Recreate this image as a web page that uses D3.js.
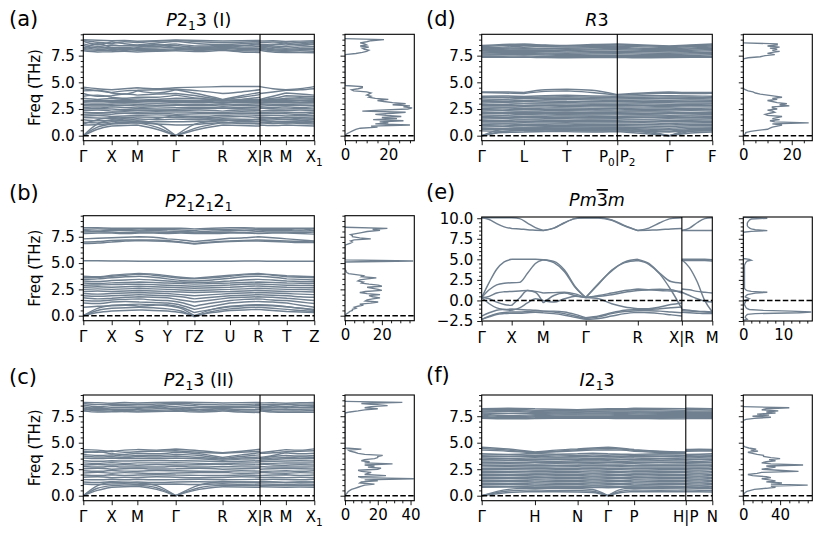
<!DOCTYPE html>
<html>
<head>
<meta charset="utf-8">
<script src="https://cdn.jsdelivr.net/npm/d3@7"></script>
<style>
  body { margin: 0; background: #fff; }
  svg text { font-family: "DejaVu Sans", sans-serif; fill: #000; }
</style>
</head>
<body>
<svg id="fig" width="830" height="545"></svg>
<script>
// ---- k-path ticks (fraction of path length) and labels ----
const kTicksA = [0, 0.123, 0.234, 0.400, 0.603, 0.765, 0.877, 1];
const kTicksB = [0, 0.123, 0.242, 0.364, 0.481, 0.635, 0.758, 0.881, 1];
const kTicksC = [0, 0.123, 0.234, 0.400, 0.603, 0.765, 0.877, 1];
const kTicksD = [0, 0.183, 0.369, 0.588, 0.814, 1];
const kTicksE = [0, 0.130, 0.267, 0.451, 0.677, 0.868, 1];
const kTicksF = [0, 0.231, 0.416, 0.547, 0.661, 0.885, 1];

const kLabelsA = [[['Γ', '']], [['X', '']], [['M', '']], [['Γ', '']], [['R', '']], [['X|R', '']], [['M', '']], [['X', ''], ['1', 's']]];
const kLabelsB = [[['Γ', '']], [['X', '']], [['S', '']], [['Y', '']], [['ΓZ', '']], [['U', '']], [['R', '']], [['T', '']], [['Z', '']]];
const kLabelsC = kLabelsA;
const kLabelsD = [[['Γ', '']], [['L', '']], [['T', '']], [['P', ''], ['0', 's'], ['|P', ''], ['2', 's']], [['Γ', '']], [['F', '']]];
const kLabelsE = [[['Γ', '']], [['X', '']], [['M', '']], [['Γ', '']], [['R', '']], [['X|R', '']], [['M', '']]];
const kLabelsF = [[['Γ', '']], [['H', '']], [['N', '']], [['Γ', '']], [['P', '']], [['H|P', '']], [['N', '']]];

const titleA = [['P', 'i'], ['2', ''], ['1', 's'], ['3 (I)', '']];
const titleB = [['P', 'i'], ['2', ''], ['1', 's'], ['2', ''], ['1', 's'], ['2', ''], ['1', 's']];
const titleC = [['P', 'i'], ['2', ''], ['1', 's'], ['3 (II)', '']];
const titleD = [['R', 'i'], ['3', '']];
const titleE = [['Pm', 'i'], ['3', 'o'], ['m', 'i']];
const titleF = [['I', 'i'], ['2', ''], ['1', 's'], ['3', '']];

// ---- band frequencies (THz) at ticks and midpoints, path by path ----
// (a): Γ . X . M . Γ . R . X | R . M . X1
const bandsA = [
  [0,0.6,0.9,0.95,1.0,0.6,0,0.6,1.0,0.95,0.9, 1.0,0.95,1.0,0.95,0.9],
  [0,0.8,1.1,1.15,1.2,0.8,0,0.8,1.2,1.15,1.1, 1.2,1.15,1.2,1.15,1.1],
  [0,1.1,1.5,1.4,1.3,1.1,0,1.2,1.4,1.5,1.5, 1.4,1.35,1.3,1.4,1.5],
  [1.0,1.05,1.15,1.25,1.2,1.1,1.0,1.08,1.25,1.2,1.15, 1.25,1.2,1.18,1.25,1.2],
  [1.25,1.2,1.3,1.4,1.35,1.3,1.3,1.35,1.45,1.35,1.3, 1.45,1.35,1.3,1.38,1.32],
  [1.5,1.4,1.45,1.55,1.6,1.5,1.55,1.5,1.6,1.55,1.5, 1.6,1.55,1.5,1.55,1.6],
  [1.7,1.65,1.6,1.7,1.75,1.72,1.7,1.65,1.75,1.8,1.7, 1.75,1.7,1.68,1.72,1.75],
  [1.85,1.9,1.8,1.85,1.9,1.95,1.85,1.82,1.9,1.95,1.9, 1.9,1.92,1.85,1.88,1.9],
  [2.0,2.05,2.0,2.1,2.05,2.1,2.0,2.05,2.05,2.1,2.05, 2.05,2.1,2.05,2.0,2.08],
  [2.2,2.15,2.2,2.25,2.2,2.25,2.22,2.2,2.15,2.25,2.2, 2.15,2.22,2.2,2.18,2.22],
  [2.35,2.4,2.3,2.35,2.4,2.38,2.35,2.4,2.3,2.4,2.38, 2.3,2.38,2.35,2.4,2.35],
  [2.5,2.55,2.5,2.45,2.55,2.5,2.48,2.55,2.6,2.52,2.5, 2.6,2.52,2.5,2.55,2.5],
  [2.65,2.6,2.7,2.65,2.6,2.7,2.65,2.62,2.72,2.65,2.68, 2.72,2.65,2.7,2.65,2.7],
  [2.8,2.78,2.8,2.85,2.78,2.8,2.85,2.8,2.9,2.82,2.8, 2.9,2.82,2.8,2.85,2.82],
  [2.95,2.9,2.95,2.98,2.92,2.98,2.95,2.92,3.0,2.95,2.98, 3.0,2.95,2.92,2.96,2.98],
  [3.1,3.05,3.1,3.08,3.1,3.05,3.12,3.08,3.15,3.1,3.08, 3.15,3.1,3.08,3.1,3.12],
  [3.22,3.2,3.18,3.22,3.25,3.2,3.25,3.2,3.28,3.22,3.2, 3.28,3.2,3.22,3.25,3.22],
  [3.3,3.28,3.3,3.32,3.3,3.3,3.32,3.3,3.35,3.3,3.3, 3.35,3.3,3.3,3.32,3.3],
  [1.1,1.5,1.7,1.6,1.45,1.6,1.9,1.7,1.5,1.4,1.6, 1.5,1.6,1.7,1.6,1.55],
  [4.55,4.4,4.3,4.4,4.5,4.4,4.5,4.55,4.6,4.6,4.6, 4.6,4.4,4.3,4.4,4.6],
  [4.4,4.2,4.05,4.2,4.25,4.3,4.35,4.2,3.95,4.1,4.3, 3.95,4.1,4.25,4.3,4.4],
  [4.2,4.25,4.0,3.9,4.2,4.0,4.3,3.9,3.4,3.75,4.05, 3.4,3.7,4.0,3.9,3.8],
  [3.95,3.7,3.75,3.9,3.8,3.9,3.95,3.7,3.35,3.6,3.85, 3.35,3.5,3.75,3.7,3.65],
  [3.7,3.8,3.6,3.5,3.6,3.6,3.8,3.5,3.3,3.4,3.6, 3.3,3.4,3.5,3.55,3.5],
  [3.5,3.4,3.5,3.4,3.45,3.4,3.5,3.45,3.3,3.35,3.4, 3.3,3.35,3.4,3.45,3.4],
  [9.0,8.95,8.9,8.92,8.85,8.9,8.97,8.92,8.87,8.9,8.92, 8.87,8.9,8.82,8.86,8.9],
  [8.92,8.75,8.62,8.8,8.72,8.85,8.93,8.8,8.7,8.76,8.82, 8.7,8.78,8.66,8.74,8.8],
  [8.85,8.55,8.8,8.62,8.5,8.68,8.85,8.62,8.52,8.62,8.7, 8.52,8.58,8.5,8.6,8.72],
  [8.6,8.38,8.5,8.42,8.45,8.5,8.6,8.4,8.48,8.45,8.52, 8.48,8.4,8.35,8.44,8.55],
  [8.45,8.22,8.3,8.26,8.32,8.36,8.45,8.28,8.38,8.3,8.35, 8.38,8.28,8.2,8.3,8.36],
  [8.3,8.1,8.15,8.1,8.2,8.22,8.3,8.14,8.28,8.18,8.2, 8.28,8.14,8.1,8.15,8.2],
  [8.15,8.32,8.05,8.2,8.1,8.08,8.15,8.26,8.2,8.08,8.05, 8.2,8.05,8.0,8.06,8.05],
  [8.05,8.0,7.95,8.05,8.0,7.95,8.05,8.1,8.1,7.95,7.94, 8.1,7.95,7.9,7.95,7.9],
  [7.95,7.85,7.86,7.9,7.85,7.9,7.95,7.88,8.0,7.85,7.8, 8.0,7.84,7.8,7.8,7.78],
  [8.2,8.62,8.22,8.0,8.26,8.55,8.2,8.0,8.15,8.42,8.62, 8.15,8.5,8.72,8.5,8.62]
];

// (b): Γ . X . S . Y . ΓZ . U . R . T . Z
const bandsB = [
  [0,0.3,0.45,0.5,0.55,0.5,0.45,0.3,0,0.3,0.5,0.55,0.6,0.5,0.4,0.35,0.3],
  [0,0.5,0.7,0.75,0.8,0.75,0.65,0.45,-0.1,0.4,0.65,0.75,0.8,0.7,0.6,0.5,0.4],
  [0,0.7,1.0,1.05,1.1,1.05,0.95,0.7,0,0.6,0.9,1.0,1.05,1.0,0.85,0.7,0.6],
  [0.8,0.9,0.95,1.0,0.9,1.0,1.05,0.8,0.3,0.6,0.85,0.95,1.0,0.95,0.85,0.7,0.5],
  [1.2,1.15,1.3,1.35,1.3,1.25,1.2,1.0,0.6,0.9,1.2,1.3,1.35,1.3,1.2,1.0,0.8],
  [1.45,1.4,1.5,1.55,1.6,1.5,1.45,1.25,0.9,1.2,1.45,1.55,1.6,1.5,1.45,1.3,1.15],
  [1.7,1.6,1.65,1.75,1.8,1.75,1.7,1.5,1.3,1.5,1.7,1.75,1.8,1.75,1.65,1.55,1.45],
  [1.9,1.85,1.9,1.95,2.0,1.95,1.9,1.8,1.6,1.75,1.9,1.95,2.0,1.95,1.9,1.8,1.75],
  [2.1,2.05,2.1,2.15,2.2,2.15,2.1,2.0,1.9,2.0,2.1,2.15,2.2,2.15,2.1,2.05,2.0],
  [2.3,2.35,2.3,2.35,2.4,2.35,2.3,2.25,2.2,2.25,2.3,2.35,2.4,2.35,2.3,2.3,2.25],
  [2.5,2.55,2.5,2.55,2.6,2.55,2.5,2.45,2.4,2.45,2.5,2.55,2.6,2.55,2.5,2.5,2.45],
  [2.7,2.75,2.7,2.75,2.8,2.75,2.7,2.65,2.6,2.65,2.7,2.78,2.82,2.75,2.7,2.68,2.65],
  [2.9,2.92,2.95,2.98,3.0,2.95,2.9,2.85,2.8,2.85,2.92,2.98,3.02,2.95,2.9,2.88,2.85],
  [3.1,3.05,3.12,3.15,3.2,3.15,3.1,3.05,3.0,3.05,3.1,3.15,3.2,3.15,3.1,3.08,3.05],
  [3.3,3.25,3.35,3.4,3.45,3.4,3.3,3.2,3.15,3.2,3.3,3.4,3.45,3.4,3.3,3.25,3.22],
  [3.45,3.5,3.6,3.7,3.75,3.65,3.5,3.35,3.3,3.4,3.55,3.7,3.75,3.65,3.5,3.45,3.4],
  [3.6,3.65,3.75,3.85,3.95,3.85,3.7,3.55,3.5,3.6,3.75,3.88,3.95,3.85,3.7,3.65,3.6],
  [3.75,3.7,3.85,3.95,4.02,3.95,3.8,3.65,3.55,3.7,3.85,3.95,4.0,3.9,3.8,3.75,3.7],
  [5.22,5.22,5.2,5.2,5.18,5.18,5.18,5.18,5.18,5.18,5.18,5.2,5.2,5.18,5.18,5.18,5.18],
  [6.85,6.9,7.0,7.1,7.15,7.1,7.05,6.95,6.8,6.95,7.05,7.1,7.1,7.05,7.0,6.95,6.95],
  [7.0,7.05,7.15,7.2,7.2,7.2,7.15,7.0,6.85,7.0,7.1,7.15,7.2,7.15,7.1,7.05,7.0],
  [7.3,7.35,7.4,7.45,7.5,7.45,7.3,7.2,7.05,7.2,7.35,7.4,7.5,7.4,7.3,7.2,7.1],
  [7.8,7.85,7.85,7.8,7.85,7.85,7.8,7.85,7.8,7.8,7.85,7.85,7.8,7.85,7.85,7.8,7.75],
  [7.95,8.0,7.95,7.9,7.95,7.95,7.9,7.95,7.85,7.9,7.95,7.9,8.0,7.95,7.95,7.9,7.95],
  [8.1,8.05,8.15,8.1,8.05,8.1,8.05,8.0,7.95,8.05,8.1,8.1,8.15,8.1,8.1,8.05,8.1],
  [8.2,8.25,8.2,8.2,8.15,8.2,8.2,8.15,8.1,8.2,8.2,8.25,8.2,8.2,8.2,8.15,8.25],
  [8.35,8.35,8.3,8.3,8.3,8.3,8.3,8.3,8.25,8.3,8.35,8.35,8.3,8.3,8.3,8.3,8.3]
];

// (c): same path as (a)
const bandsC = [
  [0,0.5,0.8,0.85,0.9,0.6,0,0.6,0.85,0.82,0.8, 0.85,0.82,0.8,0.82,0.8],
  [0,0.7,0.95,1.0,1.0,0.75,0,0.75,1.0,0.98,0.95, 1.0,0.98,0.95,0.98,0.95],
  [0,0.95,1.3,1.25,1.2,0.95,0,1.0,1.35,1.3,1.3, 1.35,1.3,1.25,1.3,1.3],
  [1.1,1.05,1.1,1.12,1.05,1.08,1.1,1.05,1.12,1.08,1.1, 1.12,1.08,1.05,1.1,1.08],
  [1.3,1.25,1.32,1.28,1.3,1.25,1.3,1.32,1.28,1.3,1.25, 1.28,1.3,1.25,1.3,1.28],
  [1.52,1.5,1.55,1.5,1.55,1.5,1.52,1.55,1.5,1.52,1.55, 1.5,1.55,1.52,1.5,1.55],
  [1.75,1.78,1.7,1.75,1.72,1.78,1.75,1.7,1.72,1.78,1.75, 1.72,1.75,1.7,1.75,1.72],
  [1.95,1.9,1.98,1.92,1.95,1.98,1.95,1.92,1.9,1.95,1.92, 1.9,1.95,1.98,1.92,1.95],
  [2.15,2.2,2.12,2.18,2.15,2.1,2.15,2.18,2.2,2.12,2.15, 2.2,2.15,2.12,2.18,2.15],
  [2.35,2.3,2.38,2.32,2.3,2.38,2.35,2.3,2.28,2.35,2.32, 2.28,2.32,2.35,2.3,2.35],
  [2.55,2.6,2.5,2.55,2.6,2.52,2.55,2.6,2.5,2.55,2.58, 2.5,2.55,2.6,2.55,2.52],
  [2.75,2.7,2.78,2.7,2.72,2.7,2.78,2.7,2.75,2.72,2.7, 2.75,2.7,2.72,2.7,2.72],
  [2.9,2.95,2.9,2.92,2.88,2.95,2.9,2.92,2.98,2.9,2.92, 2.98,2.9,2.88,2.92,2.9],
  [3.1,3.05,3.12,3.05,3.1,3.1,3.12,3.05,3.0,3.08,3.1, 3.0,3.05,3.1,3.08,3.1],
  [3.3,3.25,3.3,3.28,3.3,3.32,3.3,3.28,3.2,3.25,3.3, 3.2,3.25,3.28,3.3,3.28],
  [3.55,3.5,3.55,3.5,3.52,3.5,3.55,3.48,3.35,3.45,3.5, 3.35,3.42,3.5,3.48,3.5],
  [3.75,3.65,3.7,3.6,3.7,3.65,3.75,3.6,3.45,3.55,3.65, 3.45,3.55,3.6,3.65,3.62],
  [3.9,3.8,3.85,3.75,3.8,3.8,3.9,3.8,3.5,3.7,3.85, 3.5,3.7,3.8,3.75,3.8],
  [4.05,4.15,3.95,3.9,4.0,3.95,4.1,3.95,3.6,3.85,4.05, 3.6,3.8,4.05,3.95,4.0],
  [4.2,4.1,4.25,4.1,4.15,4.2,4.25,4.1,4.0,4.1,4.2, 4.0,4.05,4.15,4.2,4.25],
  [4.35,4.3,4.15,4.3,4.35,4.3,4.4,4.25,4.05,4.2,4.38, 4.05,4.2,4.35,4.3,4.42],
  [7.98,7.9,7.92,7.95,7.9,7.95,7.98,7.9,8.0,7.9,7.85, 8.0,7.9,7.86,7.88,7.88],
  [8.1,8.02,8.0,8.05,8.0,8.05,8.1,8.0,8.1,8.0,7.98, 8.1,8.0,7.98,8.0,8.02],
  [8.25,8.1,8.15,8.15,8.15,8.2,8.25,8.12,8.2,8.12,8.15, 8.2,8.15,8.1,8.15,8.18],
  [8.4,8.25,8.3,8.32,8.3,8.35,8.4,8.3,8.3,8.3,8.35, 8.3,8.3,8.28,8.32,8.35],
  [8.55,8.4,8.5,8.48,8.45,8.5,8.6,8.45,8.4,8.45,8.5, 8.4,8.46,8.42,8.5,8.52],
  [8.7,8.6,8.65,8.62,8.6,8.65,8.75,8.62,8.55,8.6,8.65, 8.55,8.62,8.6,8.64,8.66],
  [8.8,8.78,8.72,8.8,8.75,8.8,8.82,8.8,8.75,8.78,8.8, 8.75,8.78,8.72,8.76,8.8],
  [8.0,8.35,8.1,7.95,8.2,8.45,8.0,8.35,8.2,8.4,8.3, 8.2,8.5,8.3,8.5,8.4]
];

// (d): Γ . L . T . P0 | P2 . Γ . F
const bandsD = [
  [0,0.3,0.35,0.4,0.38,0.35,0.4, 0.4,0.2,0,0.25,0.35],
  [0,0.4,0.5,0.55,0.5,0.5,0.55, 0.55,0.35,0,0.4,0.5],
  [0,0.6,0.7,0.75,0.7,0.72,0.75, 0.75,0.5,0,0.55,0.7],
  [0.45,0.42,0.48,0.45,0.46,0.44,0.45, 0.45,0.4,0.35,0.44,0.46],
  [0.57,0.6,0.55,0.58,0.6,0.56,0.58, 0.58,0.5,0.42,0.55,0.58],
  [0.7,0.68,0.72,0.7,0.72,0.68,0.7, 0.7,0.62,0.55,0.68,0.7],
  [0.82,0.85,0.8,0.83,0.84,0.82,0.82, 0.82,0.75,0.7,0.8,0.82],
  [0.95,0.92,0.98,0.95,0.96,0.94,0.95, 0.95,0.9,0.85,0.94,0.96],
  [1.07,1.1,1.05,1.08,1.1,1.06,1.08, 1.08,1.05,1.0,1.08,1.07],
  [1.2,1.18,1.22,1.2,1.22,1.18,1.2, 1.2,1.22,1.15,1.2,1.22],
  [1.32,1.35,1.3,1.33,1.34,1.32,1.3, 1.3,1.34,1.3,1.33,1.32],
  [1.45,1.42,1.48,1.45,1.46,1.44,1.45, 1.45,1.48,1.42,1.45,1.46],
  [1.57,1.6,1.55,1.58,1.6,1.56,1.58, 1.58,1.55,1.6,1.57,1.58],
  [1.7,1.68,1.72,1.7,1.72,1.68,1.7, 1.7,1.72,1.68,1.7,1.72],
  [1.82,1.85,1.8,1.83,1.84,1.82,1.8, 1.8,1.84,1.82,1.85,1.82],
  [1.95,1.92,1.98,1.95,1.96,1.94,1.95, 1.95,1.96,1.92,1.95,1.96],
  [2.07,2.1,2.05,2.08,2.1,2.06,2.08, 2.08,2.06,2.1,2.08,2.07],
  [2.2,2.18,2.22,2.2,2.22,2.18,2.2, 2.2,2.22,2.2,2.18,2.2],
  [2.32,2.35,2.3,2.33,2.35,2.32,2.3, 2.3,2.33,2.32,2.35,2.32],
  [2.45,2.42,2.48,2.45,2.46,2.44,2.42, 2.42,2.46,2.45,2.44,2.46],
  [2.57,2.6,2.55,2.58,2.6,2.56,2.55, 2.55,2.58,2.6,2.56,2.58],
  [2.7,2.68,2.72,2.7,2.74,2.7,2.68, 2.68,2.7,2.72,2.7,2.7],
  [2.82,2.85,2.8,2.84,2.86,2.82,2.8, 2.8,2.84,2.82,2.85,2.82],
  [2.95,2.92,2.98,2.96,2.98,2.94,2.92, 2.92,2.96,2.95,2.94,2.96],
  [3.07,3.1,3.05,3.08,3.12,3.06,3.05, 3.05,3.08,3.1,3.06,3.07],
  [3.2,3.18,3.22,3.25,3.22,3.2,3.18, 3.18,3.2,3.22,3.2,3.2],
  [3.32,3.35,3.3,3.36,3.4,3.34,3.3, 3.3,3.35,3.32,3.34,3.32],
  [3.45,3.42,3.48,3.5,3.52,3.46,3.44, 3.44,3.48,3.5,3.46,3.45],
  [3.58,3.6,3.55,3.62,3.65,3.6,3.56, 3.56,3.6,3.62,3.6,3.58],
  [3.7,3.72,3.68,3.75,3.78,3.72,3.7, 3.7,3.74,3.75,3.72,3.7],
  [4.05,4.0,3.95,4.15,4.2,4.05,3.8, 3.8,3.9,4.0,3.95,3.98],
  [4.1,4.1,4.05,4.3,4.35,4.25,3.85, 3.85,4.0,4.1,4.05,4.05],
  [7.35,7.35,7.38,7.32,7.3,7.32,7.35, 7.35,7.3,7.32,7.34,7.35],
  [7.45,7.45,7.48,7.42,7.4,7.42,7.45, 7.45,7.4,7.4,7.42,7.45],
  [7.55,7.58,7.6,7.55,7.5,7.52,7.55, 7.55,7.5,7.5,7.52,7.58],
  [7.65,7.68,7.7,7.65,7.6,7.65,7.68, 7.68,7.62,7.6,7.65,7.7],
  [7.75,7.78,7.8,7.75,7.72,7.78,7.8, 7.8,7.75,7.72,7.78,7.82],
  [7.85,7.88,7.9,7.88,7.85,7.9,7.92, 7.92,7.88,7.85,7.9,7.95],
  [7.95,8.0,8.02,8.0,7.98,8.02,8.05, 8.05,8.0,7.95,8.0,8.08],
  [8.05,8.1,8.15,8.12,8.1,8.12,8.18, 8.18,8.1,8.05,8.12,8.2],
  [8.15,8.2,8.25,8.2,8.2,8.25,8.3, 8.3,8.2,8.15,8.22,8.3],
  [8.25,8.3,8.4,8.35,8.3,8.35,8.4, 8.4,8.32,8.25,8.35,8.4],
  [8.35,8.45,8.5,8.45,8.4,8.45,8.5, 8.5,8.42,8.35,8.45,8.5],
  [8.45,8.55,8.6,8.5,8.45,8.55,8.6, 8.6,8.5,8.4,8.5,8.6]
];

// (e): Γ ... X ... M ... Γ ... R ... X | R ... M  (quarter steps)
const bandsE = [
  [10.05,10.05,10.05,10.05,10.05, 9.95,9.4,8.85,8.5, 8.8,9.45,9.95,10.05, 10.05,9.8,9.1,8.5, 8.8,9.45,9.95,10.05, 8.5,8.8,9.45,9.95,10.05],
  [10.05,9.85,9.35,8.95,8.75, 8.7,8.6,8.55,8.5, 8.8,9.45,9.95,10.05, 10.02,9.75,9.05,8.5, 8.55,8.6,8.7,8.75, 8.5,8.5,8.5,8.5,8.5],
  [0.35,2.2,3.8,4.7,5.0, 5.0,5.0,5.0,4.95, 4.6,3.5,1.6,0.35, 2.1,3.6,4.7,5.0, 4.5,3.3,2.3,2.1, 5.0,5.0,5.0,5.0,4.95],
  [0.35,1.3,1.9,2.1,2.15, 2.2,3.3,4.5,4.95, 4.75,3.7,1.7,0.35, 2.0,3.7,4.6,4.85, 4.4,3.2,1.3,-1.0, 4.85,4.85,4.85,4.85,4.8],
  [0.35,0.5,0.9,1.05,1.1, 1.15,1.2,1.1,0.9, 0.95,1.0,0.8,0.35, 0.6,0.9,1.2,1.4, 1.3,1.2,1.15,1.1, 4.95,4.0,2.3,0.0,-1.4],
  [0.35,0.2,-0.2,-0.5,-0.6, 0.3,1.2,1.0,-0.3, 0.6,0.9,0.6,0.35, 0.5,0.7,1.0,1.2, 1.3,1.35,1.3,0.9, 1.4,1.3,1.1,1.0,0.9],
  [0.35,-0.4,-0.9,-1.1,-1.2, -0.9,-0.3,0.2,0.0, -0.2,0.2,0.5,0.35, 0.2,-0.4,-0.8,-1.0, -1.0,-0.8,-0.5,-0.3, 1.0,0.6,0.2,-0.1,-0.2],
  [-2.3,-1.9,-1.6,-1.45,-1.4, -1.4,-1.35,-1.3,-1.3, -1.4,-1.6,-1.9,-2.2, -2.0,-1.6,-1.35,-1.25, -1.25,-1.3,-1.4,-1.5, -1.25,-1.3,-1.35,-1.4,-1.45],
  [-2.3,-2.0,-1.7,-1.6,-1.55, -1.55,-1.5,-1.45,-1.5, -1.6,-1.8,-2.05,-2.3, -2.2,-1.9,-1.6,-1.45, -1.5,-1.6,-1.75,-1.9, -1.45,-1.5,-1.55,-1.6,-1.6],
  [-1.9,-1.5,-1.2,-1.1,-1.05, -1.1,-1.15,-1.2,-1.3, -1.3,-1.4,-1.7,-2.1, -1.9,-1.5,-1.2,-1.1, -1.1,-1.0,-0.9,-0.8, -1.1,-1.2,-1.3,-1.35,-1.4]
];

// (f): Γ . H . N . Γ . P . H | P . N
const bandsF = [
  [0,0.3,0.4,0.38,0.35,0.3,0,0.3,0.4,0.38,0.4, 0.4,0.38,0.35],
  [0,0.45,0.55,0.5,0.5,0.42,0,0.42,0.55,0.52,0.55, 0.55,0.52,0.5],
  [0,0.6,0.72,0.7,0.68,0.58,0,0.6,0.72,0.7,0.72, 0.72,0.7,0.68],
  [0.8,0.82,0.78,0.8,0.82,0.78,0.75,0.8,0.82,0.78,0.8, 0.8,0.78,0.82],
  [0.9,0.88,0.92,0.9,0.88,0.92,0.9,0.88,0.92,0.9,0.88, 0.9,0.92,0.88],
  [1.04,1.06,1.02,1.04,1.06,1.02,1.04,1.06,1.02,1.04,1.06, 1.04,1.02,1.06],
  [1.18,1.16,1.2,1.18,1.16,1.2,1.18,1.16,1.2,1.18,1.16, 1.18,1.2,1.16],
  [1.32,1.34,1.3,1.32,1.34,1.3,1.32,1.34,1.3,1.32,1.34, 1.32,1.3,1.34],
  [1.46,1.44,1.48,1.46,1.44,1.48,1.46,1.44,1.48,1.46,1.44, 1.46,1.48,1.44],
  [1.6,1.62,1.58,1.6,1.62,1.58,1.6,1.62,1.58,1.6,1.62, 1.6,1.58,1.62],
  [1.74,1.72,1.76,1.74,1.72,1.76,1.74,1.72,1.76,1.74,1.72, 1.74,1.76,1.72],
  [1.88,1.9,1.86,1.88,1.9,1.86,1.88,1.9,1.86,1.88,1.9, 1.88,1.86,1.9],
  [2.02,2.0,2.04,2.02,2.0,2.04,2.02,2.0,2.04,2.02,2.0, 2.02,2.04,2.0],
  [2.16,2.18,2.14,2.16,2.18,2.14,2.16,2.18,2.14,2.16,2.18, 2.16,2.14,2.18],
  [2.3,2.28,2.32,2.3,2.28,2.32,2.3,2.28,2.32,2.3,2.28, 2.3,2.32,2.28],
  [2.44,2.46,2.42,2.44,2.46,2.42,2.44,2.46,2.42,2.44,2.46, 2.44,2.42,2.46],
  [2.58,2.56,2.6,2.58,2.56,2.6,2.58,2.56,2.6,2.58,2.56, 2.58,2.6,2.56],
  [2.72,2.74,2.7,2.72,2.74,2.7,2.72,2.74,2.72,2.7,2.72, 2.72,2.7,2.74],
  [2.86,2.85,2.88,2.84,2.86,2.88,2.85,2.86,2.84,2.88,2.86, 2.84,2.86,2.88],
  [3.0,3.02,2.98,3.02,3.0,3.02,2.98,3.0,3.02,2.98,3.0, 3.02,3.0,2.98],
  [3.14,3.12,3.16,3.14,3.15,3.12,3.14,3.16,3.12,3.15,3.14, 3.12,3.15,3.14],
  [3.28,3.3,3.28,3.26,3.3,3.28,3.3,3.26,3.28,3.3,3.28, 3.28,3.26,3.3],
  [3.42,3.45,3.4,3.44,3.42,3.4,3.44,3.42,3.4,3.45,3.42, 3.4,3.44,3.42],
  [3.55,3.52,3.58,3.55,3.56,3.52,3.55,3.58,3.55,3.52,3.56, 3.55,3.58,3.55],
  [3.68,3.7,3.72,3.66,3.7,3.68,3.7,3.72,3.68,3.7,3.66, 3.68,3.7,3.72],
  [3.82,3.86,3.8,3.84,3.8,3.85,3.82,3.86,3.8,3.84,3.8, 3.8,3.84,3.82],
  [3.95,3.9,3.98,3.92,3.95,4.0,3.95,3.92,3.9,3.95,3.98, 3.9,3.92,3.95],
  [4.3,4.2,4.05,4.15,4.25,4.3,4.32,4.3,4.2,4.1,4.05, 4.2,4.22,4.22],
  [4.45,4.3,4.08,4.2,4.35,4.4,4.45,4.4,4.28,4.15,4.08, 4.28,4.3,4.3],
  [4.57,4.4,4.12,4.3,4.42,4.5,4.57,4.48,4.35,4.2,4.12, 4.35,4.38,4.36],
  [7.3,7.25,7.28,7.3,7.3,7.3,7.3,7.28,7.3,7.26,7.25, 7.3,7.28,7.28],
  [7.4,7.3,7.35,7.4,7.4,7.4,7.4,7.38,7.4,7.35,7.35, 7.4,7.38,7.38],
  [7.5,7.35,7.45,7.5,7.5,7.5,7.5,7.48,7.5,7.45,7.45, 7.5,7.48,7.48],
  [7.6,7.45,7.55,7.6,7.62,7.6,7.6,7.58,7.6,7.58,7.55, 7.6,7.58,7.58],
  [7.7,7.55,7.65,7.7,7.72,7.7,7.7,7.68,7.7,7.68,7.65, 7.7,7.68,7.68],
  [7.8,7.75,7.75,7.8,7.82,7.8,7.8,7.78,7.8,7.78,7.75, 7.8,7.78,7.78],
  [7.9,7.95,7.85,7.9,7.9,7.92,7.9,7.88,7.9,7.88,7.85, 7.9,7.88,7.88],
  [8.0,8.05,7.95,7.98,7.98,8.0,8.0,8.0,8.0,7.98,7.95, 8.0,7.98,7.98],
  [8.1,8.15,8.05,8.05,8.05,8.1,8.1,8.1,8.12,8.1,8.05, 8.12,8.1,8.08],
  [8.2,8.25,8.2,8.15,8.1,8.15,8.2,8.2,8.25,8.22,8.2, 8.25,8.22,8.2]
];

// ---- phonon DOS, one value every 0.1 THz from dosStart ----
const dosA = [
  0,0.5,1,2,3,4,5,7,15,12,
  30,14,20,16,27,13,24,17,26,19,
  14,22,28,8,16,29,31,27,30,22,
  28,22,18,15,20,14,11,12,10,11,
  12,10,4,3,6,8,8,0,0,0,
  0,0,0,0,0,0,0,0,0,0,
  0,0,0,0,0,0,0,0,0,0,
  0,0,0,0,0,0,0,5,8,10,
  11,9,8,11,7,10,9,7,10,12,
  18,0
];
const dosB = [
  0,0.5,1,2,2.5,4,4,6,5,7,
  10,8,14,18,11,12,15,19,15,13,
  19,12,8,11,20,18,15,12,20,18,
  13,9,10,7,8,12,17,9,10,6,
  2,1,0.5,0.5,0,0,0,0,0,0,
  0,0,37,0,0,0,0,0,0,0,
  0,0,0,0,0,0,0,0,1.5,3,
  4,3,5,14,8,4,4,3,6,9,
  12,19,15,23,0
];
const dosC = [
  0,0.5,1,1.5,2,3,4,6,8,10,
  12,18,9,10,20,12,42,10,8,25,
  12,14,16,10,8,20,22,14,18,12,
  29,12,15,10,12,18,20,20,23,12,
  8,6,3,2,10,0,0,0,0,0,
  0,0,0,0,0,0,0,0,0,0,
  0,0,0,0,0,0,0,0,0,0,
  0,0,0,0,0,0,0,0,0,3,
  8,12,20,12,16,26,18,10,35,0
];
const dosD = [
  0,0.5,1,1,3,6,10,11,12,14,
  16,12,27,13,11,15,12,14,16,10,
  9,11,13,12,10,14,12,12,19,15,
  18,14,12,10,14,12,16,13,10,7,
  5,4,2,1,0,0,0,0,0,0,
  0,0,0,0,0,0,0,0,0,0,
  0,0,0,0,0,0,0,0,0,0,
  0,0,0,2,7,9,13,10,12,15,
  12,14,11,15,10,14,14,0
];
const dosE = [
  0,1,0.8,0.5,0.5,0.6,0.8,1,3,14,
  17,12,5,1.5,1,0.7,0.6,0.5,0.4,0.3,
  0.3,0.4,0.5,0.6,0.5,1,1.5,1,0.5,0.5,
  0.8,1,2,3,6,2,1,0.6,0.4,0.3,
  0.3,0.3,0.3,0.3,0.3,0.3,0.3,0.3,0.3,0.3,
  0.3,0.3,0.3,0.3,0.3,0.3,0.3,0.3,0.3,0.3,
  0.3,0.3,0.3,0.3,0.3,0.3,0.3,0.3,0.4,0.5,
  0.6,0.8,1,2,1.5,0,0,0,0,0,
  0,0,0,0,0,0,0,0,0,0,
  0,0,0,0,0,0,0,0,0,0,
  0,0,0,0,0,0,0,0,2,6,
  3,2,1.6,1.3,1.1,1,1,1,1,1.1,
  1.2,1.4,1.6,2,6,0
];
const dosF = [
  0,0.5,1,2,4,8,12,25,35,30,
  70,30,42,25,35,28,20,30,25,10,
  5,15,20,60,38,20,28,35,25,65,
  30,20,25,35,28,40,30,22,22,15,
  10,5,16,8,14,6,2,0,0,0,
  0,0,0,0,0,0,0,0,0,0,
  0,0,0,0,0,0,0,0,0,0,
  0,0,3,12,30,10,28,15,35,25,
  38,20,25,50,0
];

const yMajorStd = [0, 2.5, 5, 7.5];
const yMajorE = [-2.5, 0, 2.5, 5, 7.5, 10];

// ---- layout ----
const GREY = '#708090';
const columns = [
  { bx: [83.3, 314.3], dx: [345, 414.3], letterX: 9 },
  { bx: [481.7, 712.3], dx: [743.3, 812.3], letterX: 426 }
];

const panels = [
  { key: 'a', letter: '(a)', title: titleA, ticks: kTicksA, labels: kLabelsA, breaks: [5], sub: 2, bands: bandsA,
    dos: dosA, dosStart: 0, dosMax: 32, dosMajor: [0, 20], dosMinor: 5, yDom: [-0.47, 9.5], yMajor: yMajorStd,
    col: 0, yPix: [34.3, 140.7], titleY: 26, letterY: 25.5 },
  { key: 'b', letter: '(b)', title: titleB, ticks: kTicksB, labels: kLabelsB, breaks: [], sub: 2, bands: bandsB,
    dos: dosB, dosStart: 0, dosMax: 37.6, dosMajor: [0, 20], dosMinor: 5, yDom: [-0.475, 9.5], yMajor: yMajorStd,
    col: 0, yPix: [215.7, 320.7], titleY: 207, letterY: 200 },
  { key: 'c', letter: '(c)', title: titleC, ticks: kTicksC, labels: kLabelsC, breaks: [5], sub: 2, bands: bandsC,
    dos: dosC, dosStart: 0, dosMax: 42.3, dosMajor: [0, 20, 40], dosMinor: 5, yDom: [-0.47, 9.5], yMajor: yMajorStd,
    col: 0, yPix: [395, 500.7], titleY: 386, letterY: 384 },
  { key: 'd', letter: '(d)', title: titleD, ticks: kTicksD, labels: kLabelsD, breaks: [3], sub: 2, bands: bandsD,
    dos: dosD, dosStart: 0, dosMax: 28.5, dosMajor: [0, 20], dosMinor: 5, yDom: [-0.47, 9.5], yMajor: yMajorStd,
    col: 1, yPix: [34.3, 140.7], titleY: 26, letterY: 25.5 },
  { key: 'e', letter: '(e)', title: titleE, ticks: kTicksE, labels: kLabelsE, breaks: [5], sub: 4, bands: bandsE,
    dos: dosE, dosStart: -2.4, dosMax: 17.25, dosMajor: [0, 10], dosMinor: 2, yDom: [-2.5, 10.15], yMajor: yMajorE,
    col: 1, yPix: [217, 321], titleY: 206, letterY: 199 },
  { key: 'f', letter: '(f)', title: titleF, ticks: kTicksF, labels: kLabelsF, breaks: [5], sub: 2, bands: bandsF,
    dos: dosF, dosStart: 0, dosMax: 75, dosMajor: [0, 40], dosMinor: 10, yDom: [-0.47, 9.5], yMajor: yMajorStd,
    col: 1, yPix: [395, 500.7], titleY: 386, letterY: 382 }
];

const svg = d3.select('#fig');
const defs = svg.append('defs');
const fmt = d3.format('.1f');

// tspan runs: i = italic, s = subscript, o = overline
function richText(sel, parts, size) {
  let shift = 0;
  parts.forEach(([t, st]) => {
    const ts = sel.append('tspan').text(t);
    let target = 0;
    if (st.includes('i')) ts.attr('font-style', 'italic');
    if (st.includes('s')) { target = size * 0.22; ts.attr('font-size', size * 0.7); }
    if (st.includes('o')) ts.style('text-decoration', 'overline');
    if (target !== shift) { ts.attr('dy', target - shift); shift = target; }
  });
}

function styleAxis(a) {
  a.select('.domain').remove();
  a.attr('font-size', 15).attr('font-family', '"DejaVu Sans", sans-serif');
  a.selectAll('line').attr('stroke', '#000').attr('stroke-width', 0.9);
}

function minorValues(lo, hi, step, majors) {
  return d3.range(Math.ceil(lo / step - 1e-9) * step, hi + 1e-9, step)
    .filter(v => !majors.some(m => Math.abs(m - v) < 1e-6));
}

function drawPanel(p) {
  const col = columns[p.col];
  const [bx0, bx1] = col.bx;
  const [dx0, dx1] = col.dx;
  const [top, bot] = p.yPix;
  const g = svg.append('g');
  const x = d3.scaleLinear().domain([0, 1]).range([bx0, bx1]);
  const y = d3.scaleLinear().domain(p.yDom).range([bot, top]);
  const xd = d3.scaleLinear().domain([0, p.dosMax]).range([dx0, dx1]);

  defs.append('clipPath').attr('id', 'cb' + p.key)
    .append('rect').attr('x', bx0).attr('y', top).attr('width', bx1 - bx0).attr('height', bot - top);
  defs.append('clipPath').attr('id', 'cd' + p.key)
    .append('rect').attr('x', dx0).attr('y', top).attr('width', dx1 - dx0).attr('height', bot - top);

  // sample positions along each unbroken piece of the path
  const cuts = [0, ...p.breaks, p.ticks.length - 1];
  const pieces = [];
  let offset = 0;
  for (let s = 0; s < cuts.length - 1; s++) {
    const ks = [];
    for (let i = cuts[s]; i < cuts[s + 1]; i++) {
      for (let j = 0; j < p.sub; j++) ks.push(p.ticks[i] + (p.ticks[i + 1] - p.ticks[i]) * j / p.sub);
    }
    ks.push(p.ticks[cuts[s + 1]]);
    pieces.push({ ks, offset });
    offset += ks.length;
  }

  // each tick-to-tick segment is its own smooth curve, so kinks stay at high-symmetry points
  const bandG = g.append('g').attr('clip-path', `url(#cb${p.key})`);
  p.bands.forEach(b => {
    let d = '';
    pieces.forEach(({ ks, offset }) => {
      for (let s = 0; s + p.sub < ks.length; s += p.sub) {
        const kseg = ks.slice(s, s + p.sub + 1);
        const line = d3.line().x((v, i) => x(kseg[i])).y(v => y(v)).curve(d3.curveMonotoneX);
        d += line(b.slice(offset + s, offset + s + p.sub + 1));
      }
    });
    bandG.append('path').attr('d', d)
      .attr('fill', 'none').attr('stroke', GREY).attr('stroke-width', 1.45);
  });

  // DOS curve
  const dosLine = d3.line().x(d => xd(d)).y((d, i) => y(p.dosStart + i * 0.1));
  g.append('g').attr('clip-path', `url(#cd${p.key})`)
    .append('path').datum(p.dos).attr('d', dosLine)
    .attr('fill', 'none').attr('stroke', GREY).attr('stroke-width', 1.35);

  // zero line
  [[bx0, bx1], [dx0, dx1]].forEach(([a, b]) => {
    g.append('line').attr('x1', a).attr('x2', b).attr('y1', y(0)).attr('y2', y(0))
      .attr('stroke', '#000').attr('stroke-width', 1.5).attr('stroke-dasharray', '5.5,2.4');
  });

  // path breaks
  p.breaks.forEach(bi => {
    g.append('line').attr('x1', x(p.ticks[bi])).attr('x2', x(p.ticks[bi])).attr('y1', top).attr('y2', bot)
      .attr('stroke', '#000').attr('stroke-width', 1.1);
  });

  // frames
  [[bx0, bx1], [dx0, dx1]].forEach(([a, b]) => {
    g.append('rect').attr('x', a).attr('y', top).attr('width', b - a).attr('height', bot - top)
      .attr('fill', 'none').attr('stroke', '#000').attr('stroke-width', 1.1);
  });

  const yMinor = minorValues(p.yDom[0], p.yDom[1], 0.5, p.yMajor);

  // band y axis
  g.append('g').attr('transform', `translate(${bx0},0)`)
    .call(d3.axisLeft(y).tickValues(p.yMajor).tickFormat(fmt).tickSize(4.5).tickPadding(4))
    .call(styleAxis);
  g.append('g').attr('transform', `translate(${bx0},0)`)
    .call(d3.axisLeft(y).tickValues(yMinor).tickFormat('').tickSize(2.6))
    .call(styleAxis);

  // band x axis with k-point labels
  g.append('g').attr('transform', `translate(0,${bot})`)
    .call(d3.axisBottom(x).tickValues(p.ticks).tickFormat('').tickSize(4.5))
    .call(styleAxis);
  p.labels.forEach((lab, i) => {
    const t = g.append('text').attr('x', x(p.ticks[i])).attr('y', bot + 21.5)
      .attr('text-anchor', 'middle').attr('font-size', 15);
    richText(t, lab, 15);
  });

  // DOS axes
  g.append('g').attr('transform', `translate(${dx0},0)`)
    .call(d3.axisLeft(y).tickValues(p.yMajor).tickFormat('').tickSize(4.5))
    .call(styleAxis);
  g.append('g').attr('transform', `translate(${dx0},0)`)
    .call(d3.axisLeft(y).tickValues(yMinor).tickFormat('').tickSize(2.6))
    .call(styleAxis);
  g.append('g').attr('transform', `translate(0,${bot})`)
    .call(d3.axisBottom(xd).tickValues(p.dosMajor).tickFormat(d3.format('d')).tickSize(4.5).tickPadding(4))
    .call(styleAxis);
  g.append('g').attr('transform', `translate(0,${bot})`)
    .call(d3.axisBottom(xd).tickValues(minorValues(0, p.dosMax, p.dosMinor, p.dosMajor)).tickFormat('').tickSize(2.6))
    .call(styleAxis);

  // title and panel letter
  const title = g.append('text').attr('x', (bx0 + bx1) / 2).attr('y', p.titleY)
    .attr('text-anchor', 'middle').attr('font-size', 17.5);
  richText(title, p.title, 17.5);
  g.append('text').attr('x', col.letterX).attr('y', p.letterY).attr('font-size', 21).text(p.letter);

  if (p.col === 0) {
    g.append('text').attr('transform', `translate(40,${(top + bot) / 2}) rotate(-90)`)
      .attr('text-anchor', 'middle').attr('font-size', 15).text('Freq (THz)');
  }
}

panels.forEach(drawPanel);
</script>
</body>
</html>
